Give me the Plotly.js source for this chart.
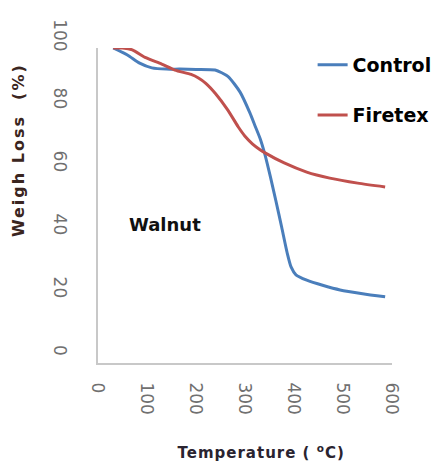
<!DOCTYPE html>
<html>
<head>
<meta charset="utf-8">
<script src="https://cdn.plot.ly/plotly-3.0.1.min.js"></script>
<style>
html, body { margin: 0; padding: 0; background: #fff; }
#chart { width: 436px; height: 466px; }
g.annotation[data-index="1"] text { letter-spacing: 1px; }
g.annotation[data-index="2"] text { letter-spacing: 2px; }
</style>
</head>
<body>
<div id="chart"></div>
<script>
// Data
var controlTemp = [31, 60, 85, 110, 140, 167, 200, 239, 265, 290, 310, 320, 331, 341, 352, 363, 375, 386, 394, 404, 426, 460, 494, 540, 586];
var controlWeight = [100, 97.8, 95.2, 93.7, 93.3, 93.3, 93.2, 93, 91, 86, 79.4, 75.5, 71.2, 66, 59, 51.5, 43, 35, 30.5, 28, 26.3, 24.6, 23.2, 22, 21];
var firetexTemp = [31, 50, 70, 96, 130, 157, 190, 205, 220, 240, 265, 286, 300, 315, 330, 341, 380, 426, 473, 530, 586];
var firetexWeight = [100, 100, 99.4, 97, 94.9, 93, 91.6, 90.5, 88.8, 85.5, 80.3, 75, 72, 69.6, 67.8, 66.7, 63.5, 60.6, 58.7, 57.1, 55.9];
var seriesNames = ["Control", "Firetex"];
var xTickVals = [0, 100, 200, 300, 400, 500, 600];
var xTickText = ["0", "100", "200", "300", "400", "500", "600"];
var yTickVals = [0, 20, 40, 60, 80, 100];
var yTickText = ["0", "20", "40", "60", "80", "100"];

var traces = [
  {
    x: controlTemp, y: controlWeight, name: seriesNames[0], type: "scatter", mode: "lines",
    line: {color: "#4a7ebb", width: 3, shape: "spline", smoothing: 0.6},
    legend: "legend"
  },
  {
    x: firetexTemp, y: firetexWeight, name: seriesNames[1], type: "scatter", mode: "lines",
    line: {color: "#c0504d", width: 3, shape: "spline", smoothing: 0.6},
    legend: "legend2"
  }
];

var tickFont = {family: "DejaVu Sans", size: 17, color: "#707070"};
var legFont = {family: "DejaVu Sans", size: 19, color: "#000", weight: 700};

var layout = {
  width: 436, height: 466,
  margin: {l: 98, r: 44, t: 48, b: 103, autoexpand: false},
  paper_bgcolor: "#fff", plot_bgcolor: "#fff",
  xaxis: {
    range: [0, 600], tickvals: xTickVals, ticktext: xTickText, tickangle: 90,
    showgrid: false, zeroline: false, showline: true, linecolor: "#c8c8c8", linewidth: 2,
    ticks: "", tickfont: tickFont, ticklabelstandoff: 14, automargin: false
  },
  yaxis: {
    range: [0, 100], tickvals: yTickVals, ticktext: yTickText, tickangle: 90,
    showgrid: false, zeroline: false, showline: true, linecolor: "#c8c8c8", linewidth: 2,
    ticks: "", tickfont: tickFont, ticklabelstandoff: 22, ticklabelshift: -10, automargin: false
  },
  legend: {
    x: 0.73, y: 0.946, xanchor: "left", yanchor: "middle",
    font: legFont, bgcolor: "rgba(0,0,0,0)", borderwidth: 0
  },
  legend2: {
    x: 0.73, y: 0.787, xanchor: "left", yanchor: "middle",
    font: legFont, bgcolor: "rgba(0,0,0,0)", borderwidth: 0
  },
  annotations: [
    {text: "Walnut", xref: "paper", yref: "paper", x: 0.228, y: 0.441, xanchor: "center", yanchor: "middle", showarrow: false,
     font: {family: "DejaVu Sans", size: 18, color: "#111", weight: 700}},
    {text: "Temperature ( <sup>o</sup>C)", xref: "paper", yref: "paper", x: 0.554, y: -0.283, xanchor: "center", yanchor: "middle", showarrow: false,
     font: {family: "DejaVu Sans", size: 15, color: "#2a2430", weight: 700}},
    {text: "Weigh Loss  (%)", xref: "paper", yref: "paper", x: -0.272, y: 0.676, xanchor: "center", yanchor: "middle", showarrow: false, textangle: -90,
     font: {family: "DejaVu Sans", size: 16, color: "#3a2520", weight: 700}}
  ],
  showlegend: true
};

Plotly.newPlot("chart", traces, layout, {displayModeBar: false, staticPlot: true});
</script>
</body>
</html>
